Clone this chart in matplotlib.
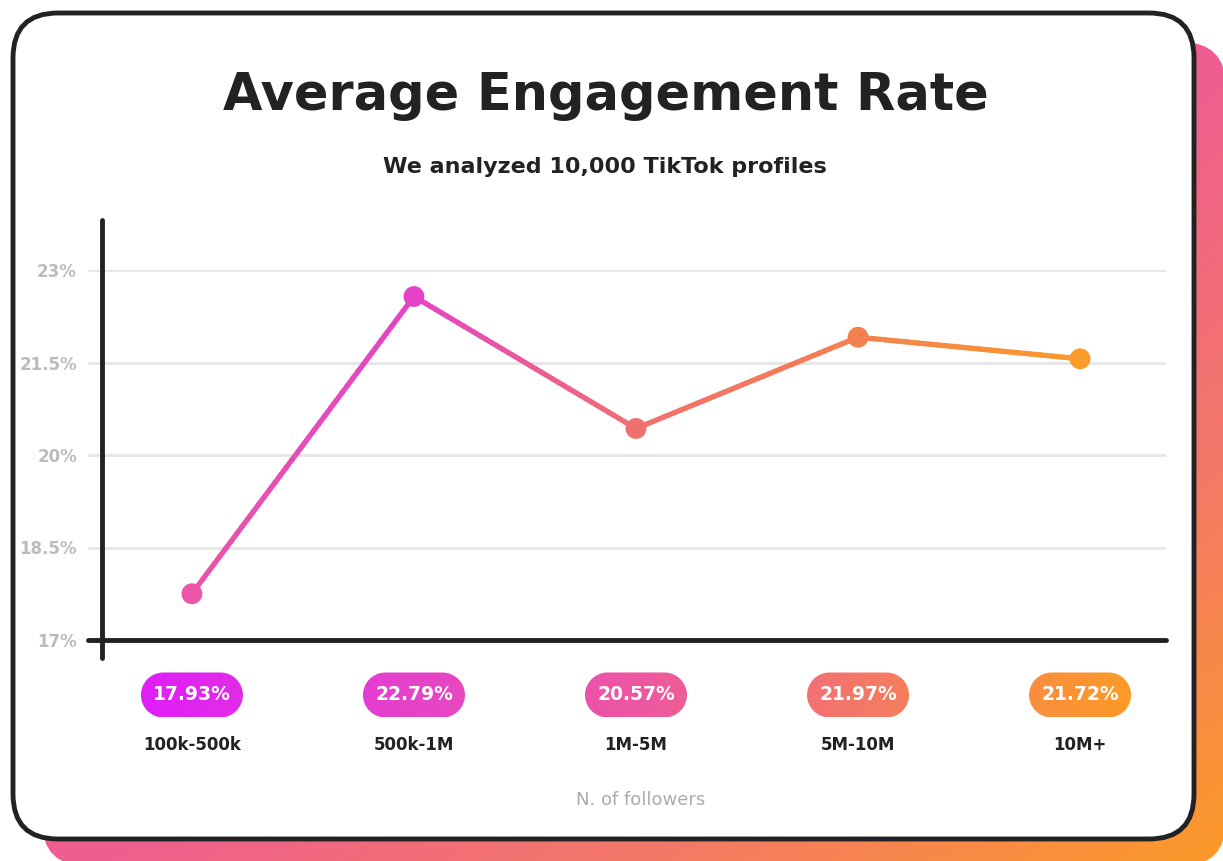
import numpy as np
import matplotlib.pyplot as plt
from matplotlib.patches import FancyBboxPatch, PathPatch
from matplotlib.path import Path
from matplotlib.lines import Line2D
from matplotlib.colors import LinearSegmentedColormap, to_rgb
from matplotlib.collections import LineCollection

# dati
categories = ["100k-500k", "500k-1M", "1M-5M", "5M-10M", "10M+"]
engagement = [17.75, 22.57, 20.43, 21.91, 21.56]
badge_labels = ["17.93%", "22.79%", "20.57%", "21.97%", "21.72%"]
yticks = [17, 18.5, 20, 21.5, 23]
ytick_labels = ["17%", "18.5%", "20%", "21.5%", "23%"]
point_colors = ["#EC55A8", "#E443C6", "#F07070", "#F5804F", "#FC9A2A"]

W, H = 1223, 861
plt.rcParams['font.family'] = ['DejaVu Sans']
fig = plt.figure(figsize=(W / 100, H / 100), dpi=100)


def pill_path(left, right, cy, r):
    # capsula: due semicerchi uniti
    a1 = Path.arc(-90, 90)
    a2 = Path.arc(90, 270)
    v1 = a1.vertices * r + [right - r, cy]
    v2 = a2.vertices * r + [left + r, cy]
    verts = np.vstack([v1, v2, v1[:1]])
    codes = np.concatenate([a1.codes, a2.codes, [Path.CLOSEPOLY]])
    codes[len(a1.codes)] = Path.LINETO
    return Path(verts, codes)


# sfondo in coordinate pixel
bg = fig.add_axes([0, 0, 1, 1])
bg.set_xlim(0, W)
bg.set_ylim(H, 0)
bg.axis('off')

# ombra sfumata
shadow_cmap = LinearSegmentedColormap.from_list(
    "shadow", [(0, "#EC4FB0"), (0.5, "#EF5D92"), (0.75, "#F47868"), (1, "#FD9A28")])
gx, gy = np.meshgrid(np.linspace(0, 1, 300), np.linspace(0, 1, 300))
shadow = FancyBboxPatch((42, 42), 1184, 824, boxstyle="round,pad=0,rounding_size=45",
                        fc="none", ec="none", zorder=0)
bg.add_patch(shadow)
im = bg.imshow((gx + gy) / 2, cmap=shadow_cmap, vmin=0, vmax=1,
               extent=(42, 1226, 866, 42), aspect='auto', zorder=0)
im.set_clip_path(shadow)

# card bianca
card = FancyBboxPatch((13, 13), 1181, 826, boxstyle="round,pad=0,rounding_size=45",
                      fc="white", ec="#222222", lw=3.5, zorder=2)
bg.add_patch(card)

bg.text(606, 96, "Average Engagement Rate", ha="center", va="center",
        fontsize=36.7, fontweight="bold", color="#222222", zorder=3)
bg.text(605, 167, "We analyzed 10,000 TikTok profiles", ha="center", va="center",
        fontsize=16, fontweight="bold", color="#222222", zorder=3)
bg.text(641, 800, "N. of followers", ha="center", va="center",
        fontsize=13, color="#ABABAB", zorder=3)

# grafico
ax = fig.add_axes([88 / W, (H - 640) / H, (1166 - 88) / W, (640 - 270) / H])
ax.patch.set_alpha(0)
x = np.arange(len(categories))
ax.set_xlim(-0.468, 4.387)
ax.set_ylim(17, 23)
ax.set_yticks(yticks)
ax.set_yticklabels(ytick_labels, color="#BBBBBB", fontweight="bold", fontsize=12)
ax.set_xticks([])
ax.tick_params(axis='y', length=0, pad=8)
ax.grid(axis='y', color="#E6E6E6", lw=2)
for s in ax.spines.values():
    s.set_visible(False)

# linea sfumata tra i punti
segs, cols = [], []
for i in range(len(x) - 1):
    c0, c1 = np.array(to_rgb(point_colors[i])), np.array(to_rgb(point_colors[i + 1]))
    t = np.linspace(0, 1, 41)
    xs = x[i] + (x[i + 1] - x[i]) * t
    ys = engagement[i] + (engagement[i + 1] - engagement[i]) * t
    for j in range(len(t) - 1):
        segs.append([(xs[j], ys[j]), (xs[j + 1], ys[j + 1])])
        cols.append(c0 + (c1 - c0) * (t[j] + t[j + 1]) / 2)
ax.add_collection(LineCollection(segs, colors=cols, lw=3.8, capstyle="round", zorder=4))
ax.scatter(x, engagement, s=15 ** 2, c=point_colors, zorder=5, clip_on=False, linewidths=0)

# assi neri
ax.axhline(17, color="#222222", lw=3.5, solid_capstyle="round", clip_on=False, zorder=6)
ax.add_line(Line2D([102, 102], [220, 658], transform=bg.transData, color="#222222",
                   lw=3.5, solid_capstyle="round", clip_on=False, zorder=6))

# etichette a pillola sotto l'asse
badge_cmap = LinearSegmentedColormap.from_list(
    "badge", [(0, "#E01EF8"), (0.28, "#E544C8"), (0.51, "#EE58A0"),
              (0.725, "#F47868"), (1, "#FD9A28")])
bx0, bx1 = 141, 1131
for i, (lab, cat) in enumerate(zip(badge_labels, categories)):
    disp = ax.transData.transform((x[i], 17))
    cx = bg.transData.inverted().transform(disp)[0]
    left, right = cx - 51, cx + 51
    pill = PathPatch(pill_path(left, right, 695, 22.5), fc="none", ec="none", zorder=3)
    bg.add_patch(pill)
    tvals = (np.linspace(left, right, 100) - bx0) / (bx1 - bx0)
    pim = bg.imshow(np.tile(tvals, (10, 1)), cmap=badge_cmap, vmin=0, vmax=1,
                    extent=(left, right, 717.5, 672.5), aspect='auto', zorder=3)
    pim.set_clip_path(pill)
    bg.text(cx, 695, lab, ha="center", va="center", fontsize=13.5,
            fontweight="bold", color="white", zorder=4)
    bg.text(cx, 745, cat, ha="center", va="center", fontsize=12,
            fontweight="bold", color="#222222", zorder=4)

fig.savefig("out.png", dpi=100)
